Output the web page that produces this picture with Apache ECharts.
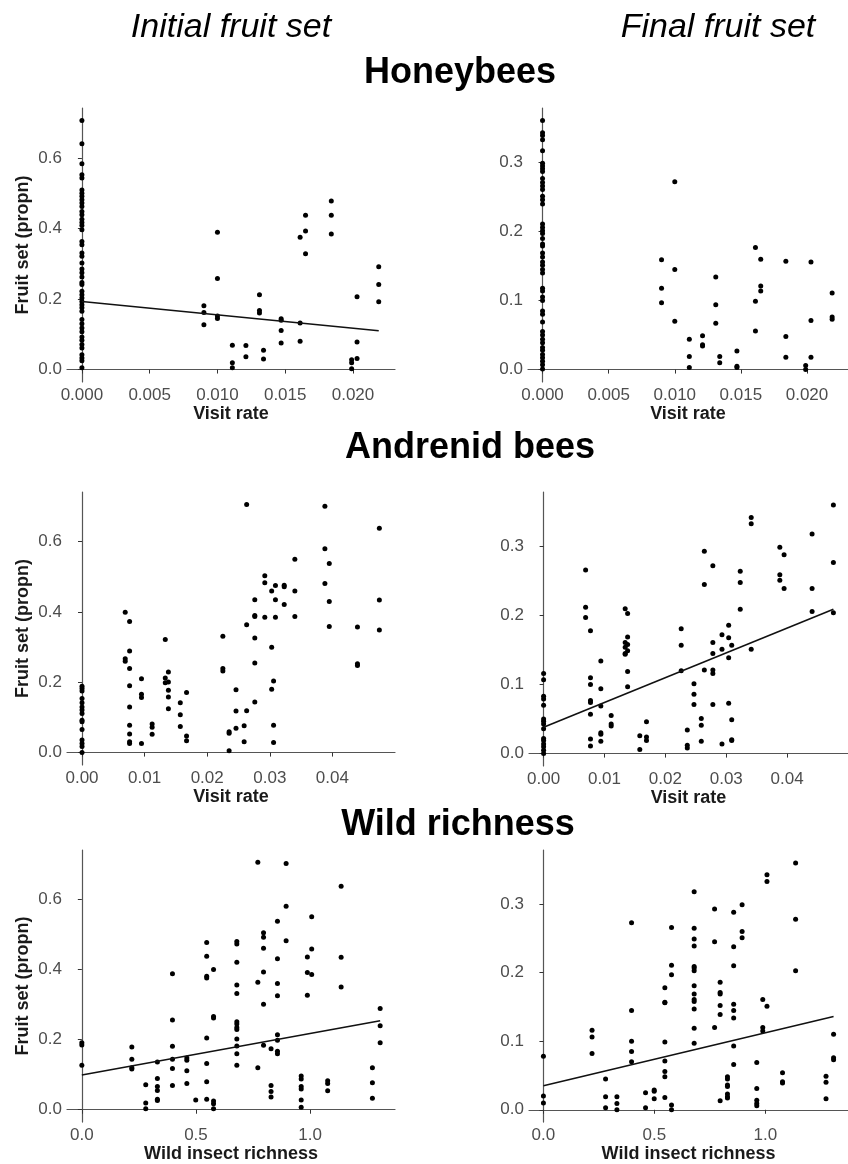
<!DOCTYPE html>
<html>
<head>
<meta charset="utf-8">
<script src="https://cdn.jsdelivr.net/npm/echarts@6/dist/echarts.min.js"></script>
<style>
  html, body { margin: 0; padding: 0; background: #fff; }
  #chart { width: 848px; height: 1164px; }
</style>
</head>
<body>
<div id="chart"></div>
<script>
// columns: [x, [y values at that x]]
const honeyInitial = [
  [0, [0.706, 0.640, 0.583, 0.552, 0.543, 0.509, 0.500, 0.491, 0.481, 0.472, 0.462, 0.448, 0.439, 0.426,
       0.417, 0.408, 0.396, 0.363, 0.354, 0.330, 0.321, 0.302, 0.285, 0.274, 0.262, 0.247, 0.241, 0.222,
       0.212, 0.203, 0.193, 0.184, 0.175, 0.165, 0.142, 0.130, 0.118, 0.107, 0.092, 0.083, 0.071, 0.061,
       0.042, 0.033, 0.025, 0.005]],
  [0.0090, [0.181, 0.162, 0.127]],
  [0.0100, [0.389, 0.258, 0.152, 0.145]],
  [0.0111, [0.069, 0.019, 0.005]],
  [0.0121, [0.068, 0.036]],
  [0.0131, [0.212, 0.167, 0.160]],
  [0.0134, [0.055, 0.030]],
  [0.0147, [0.144, 0.140, 0.111, 0.075]],
  [0.0161, [0.375, 0.132, 0.080]],
  [0.0165, [0.437, 0.393, 0.328]],
  [0.0184, [0.478, 0.437, 0.384]],
  [0.0199, [0.028, 0.019, 0.002]],
  [0.0203, [0.206, 0.078, 0.031]],
  [0.0219, [0.291, 0.241, 0.192]]
];
const honeyFinal = [
  [0, [0.361, 0.343, 0.339, 0.333, 0.317, 0.299, 0.295, 0.291, 0.287, 0.277, 0.271, 0.266, 0.261, 0.251,
       0.246, 0.240, 0.211, 0.206, 0.201, 0.197, 0.190, 0.182, 0.179, 0.169, 0.163, 0.156, 0.151, 0.145,
       0.140, 0.118, 0.114, 0.105, 0.100, 0.085, 0.080, 0.069, 0.055, 0.050, 0.044, 0.039, 0.032, 0.028,
       0.022, 0.017, 0.012, 0.007, 0.001]],
  [0.0090, [0.159, 0.118, 0.097]],
  [0.0100, [0.272, 0.145, 0.070]],
  [0.0111, [0.044, 0.019, 0.003]],
  [0.0121, [0.049, 0.036, 0.034]],
  [0.0131, [0.134, 0.094, 0.067]],
  [0.0134, [0.019, 0.010]],
  [0.0147, [0.027, 0.005, 0.003]],
  [0.0161, [0.177, 0.099, 0.056]],
  [0.0165, [0.160, 0.121, 0.114]],
  [0.0184, [0.157, 0.048, 0.018]],
  [0.0199, [0.006, 0.000]],
  [0.0203, [0.156, 0.071, 0.018]],
  [0.0219, [0.111, 0.076, 0.073]]
];
const andrenidInitial = [
  [0, [0.189, 0.182, 0.175, 0.154, 0.142, 0.130, 0.121, 0.111, 0.092, 0.088, 0.066, 0.036, 0.026, 0.017, 0.000]],
  [0.0069, [0.399, 0.267, 0.260]],
  [0.0076, [0.373, 0.289, 0.239, 0.190, 0.130, 0.078, 0.053, 0.031, 0.026]],
  [0.0095, [0.210, 0.166, 0.157, 0.026]],
  [0.0112, [0.081, 0.072, 0.052]],
  [0.0133, [0.322, 0.212, 0.199]],
  [0.0138, [0.229, 0.201, 0.177, 0.158, 0.125]],
  [0.0157, [0.142, 0.108, 0.074]],
  [0.0167, [0.171, 0.047, 0.034]],
  [0.0225, [0.331, 0.239, 0.232]],
  [0.0235, [0.059, 0.055, 0.005]],
  [0.0246, [0.179, 0.118, 0.069]],
  [0.0259, [0.076, 0.031]],
  [0.0263, [0.706, 0.364, 0.119]],
  [0.0276, [0.435, 0.390, 0.387, 0.326, 0.255, 0.144]],
  [0.0292, [0.503, 0.483, 0.385]],
  [0.0303, [0.460, 0.300, 0.180]],
  [0.0306, [0.204, 0.078, 0.029]],
  [0.0309, [0.475, 0.435, 0.385]],
  [0.0323, [0.476, 0.472, 0.421]],
  [0.0340, [0.550, 0.460, 0.387]],
  [0.0388, [0.701, 0.580, 0.481]],
  [0.0395, [0.538, 0.430, 0.359]],
  [0.0440, [0.357, 0.253, 0.248]],
  [0.0475, [0.638, 0.434, 0.349]]
];
const andrenidFinal = [
  [0, [0.116, 0.107, 0.083, 0.079, 0.070, 0.050, 0.047, 0.043, 0.036, 0.022, 0.019, 0.014, 0.010, 0.005, 0.000]],
  [0.0069, [0.266, 0.212, 0.197]],
  [0.0077, [0.178, 0.110, 0.100, 0.077, 0.074, 0.057, 0.021, 0.011]],
  [0.0094, [0.134, 0.094, 0.069, 0.030, 0.028, 0.018]],
  [0.0111, [0.055, 0.043, 0.040]],
  [0.0134, [0.210, 0.161, 0.154, 0.145, 0.144]],
  [0.0138, [0.203, 0.169, 0.158, 0.149, 0.119, 0.097]],
  [0.0158, [0.026, 0.006]],
  [0.0169, [0.046, 0.024, 0.019]],
  [0.0226, [0.181, 0.157, 0.120]],
  [0.0236, [0.034, 0.012, 0.008]],
  [0.0247, [0.101, 0.086, 0.071]],
  [0.0259, [0.051, 0.041, 0.018]],
  [0.0264, [0.293, 0.245, 0.121]],
  [0.0278, [0.272, 0.161, 0.145, 0.121, 0.116, 0.071]],
  [0.0293, [0.172, 0.151, 0.014]],
  [0.0304, [0.186, 0.168, 0.139, 0.073]],
  [0.0309, [0.157, 0.049, 0.020, 0.019]],
  [0.0323, [0.264, 0.248, 0.209]],
  [0.0341, [0.342, 0.333, 0.151]],
  [0.0388, [0.299, 0.259, 0.251]],
  [0.0395, [0.288, 0.239]],
  [0.0441, [0.318, 0.239, 0.206]],
  [0.0476, [0.360, 0.277, 0.204]]
];
const wildInitial = [
  [0, [0.191, 0.185, 0.127]],
  [0.219, [0.179, 0.144, 0.120, 0.116]],
  [0.280, [0.071, 0.019, 0.003]],
  [0.331, [0.136, 0.089, 0.066, 0.055, 0.030, 0.026]],
  [0.397, [0.388, 0.256, 0.181, 0.144, 0.118, 0.069]],
  [0.460, [0.148, 0.141, 0.111, 0.075]],
  [0.499, [0.028]],
  [0.547, [0.477, 0.438, 0.381, 0.376, 0.205, 0.132, 0.080, 0.030]],
  [0.577, [0.400, 0.266, 0.262, 0.025, 0.017, 0.003]],
  [0.679, [0.480, 0.473, 0.421, 0.356, 0.332, 0.251, 0.245, 0.235, 0.229, 0.202, 0.182, 0.160, 0.127]],
  [0.771, [0.706, 0.364, 0.120]],
  [0.796, [0.505, 0.492, 0.461, 0.393, 0.301, 0.184]],
  [0.829, [0.174, 0.069, 0.052, 0.036]],
  [0.857, [0.538, 0.431, 0.360, 0.325, 0.214, 0.198, 0.167, 0.160]],
  [0.895, [0.703, 0.581, 0.482]],
  [0.961, [0.096, 0.088, 0.066, 0.059, 0.028, 0.007]],
  [0.988, [0.436, 0.392, 0.327]],
  [1.007, [0.551, 0.459, 0.386]],
  [1.077, [0.083, 0.075, 0.054]],
  [1.136, [0.638, 0.435, 0.350]],
  [1.273, [0.120, 0.077, 0.033]],
  [1.307, [0.289, 0.240, 0.191]]
];
const wildFinal = [
  [0, [0.078, 0.020, 0.010]],
  [0.219, [0.116, 0.106, 0.082]],
  [0.280, [0.045, 0.019, 0.003]],
  [0.331, [0.019, 0.009, 0.000]],
  [0.397, [0.273, 0.145, 0.100, 0.085, 0.070]],
  [0.460, [0.025, 0.003]],
  [0.499, [0.029, 0.027, 0.016]],
  [0.547, [0.178, 0.157, 0.156, 0.099, 0.071, 0.056, 0.048, 0.018]],
  [0.577, [0.266, 0.211, 0.197, 0.007, 0.000]],
  [0.679, [0.318, 0.265, 0.249, 0.239, 0.209, 0.207, 0.203, 0.181, 0.169, 0.161, 0.158, 0.147, 0.119, 0.097]],
  [0.771, [0.293, 0.245, 0.120]],
  [0.796, [0.186, 0.171, 0.169, 0.152, 0.139, 0.013]],
  [0.829, [0.048, 0.045, 0.036, 0.034, 0.023, 0.019, 0.017]],
  [0.857, [0.288, 0.238, 0.210, 0.154, 0.145, 0.134, 0.093, 0.066]],
  [0.895, [0.299, 0.260, 0.251]],
  [0.961, [0.069, 0.031, 0.014, 0.009, 0.006]],
  [0.988, [0.161, 0.120, 0.115]],
  [1.007, [0.343, 0.333, 0.151]],
  [1.077, [0.054, 0.041, 0.039]],
  [1.136, [0.360, 0.278, 0.203]],
  [1.273, [0.049, 0.040, 0.016]],
  [1.307, [0.110, 0.076, 0.073]]
];

// fitted lines (end points)
const honeyInitialFit = [[0, 0.193], [0.0219, 0.110]];
const andrenidFinalFit = [[0, 0.038], [0.0476, 0.209]];
const wildInitialFit = [[0, 0.099], [1.307, 0.254]];
const wildFinalFit = [[0, 0.035], [1.307, 0.136]];

const rateTicks = [0, 0.005, 0.010, 0.015, 0.020];
const andrenidTicks = [0, 0.01, 0.02, 0.03, 0.04];
const richTicks = [0, 0.5, 1.0];
const initialTicks = [0, 0.2, 0.4, 0.6];
const finalTicks = [0, 0.1, 0.2, 0.3];

const colTitles = ['Initial fruit set', 'Final fruit set'];
const rowTitles = ['Honeybees', 'Andrenid bees', 'Wild richness'];

const FONT = '"Liberation Sans", Arial, sans-serif';

function flatten (cols) {
  let out = []
  cols.forEach(c => c[1].forEach(v => out.push([c[0], v])))
  return out
}

const panels = [
  {grid: {left: 67, top: 108, width: 328, height: 274}, xr: [-0.0011, 0.0231], xt: rateTicks, xd: 3,
    yr: [-0.0353, 0.7413], yt: initialTicks, data: honeyInitial, fit: honeyInitialFit, xname: 'Visit rate', yname: 'Fruit set (propn)'},
  {grid: {left: 528, top: 108, width: 329, height: 274}, xr: [-0.0011, 0.0231], xt: rateTicks, xd: 3,
    yr: [-0.018, 0.379], yt: finalTicks, data: honeyFinal, fit: null, xname: 'Visit rate', yname: ''},
  {grid: {left: 67, top: 492, width: 328, height: 273}, xr: [-0.0024, 0.0500], xt: andrenidTicks, xd: 2,
    yr: [-0.0353, 0.7413], yt: initialTicks, data: andrenidInitial, fit: null, xname: 'Visit rate', yname: 'Fruit set (propn)'},
  {grid: {left: 529, top: 492, width: 329, height: 274}, xr: [-0.0024, 0.0500], xt: andrenidTicks, xd: 2,
    yr: [-0.018, 0.379], yt: finalTicks, data: andrenidFinal, fit: andrenidFinalFit, xname: 'Visit rate', yname: ''},
  {grid: {left: 67, top: 850, width: 328, height: 274}, xr: [-0.065, 1.372], xt: richTicks, xd: 1,
    yr: [-0.0353, 0.7413], yt: initialTicks, data: wildInitial, fit: wildInitialFit, xname: 'Wild insect richness', yname: 'Fruit set (propn)'},
  {grid: {left: 529, top: 850, width: 329, height: 274}, xr: [-0.065, 1.372], xt: richTicks, xd: 1,
    yr: [-0.018, 0.379], yt: finalTicks, data: wildFinal, fit: wildFinalFit, xname: 'Wild insect richness', yname: ''}
];

const axisLine = {lineStyle: {color: '#555', width: 1.2}};
const grids = [], xAxes = [], yAxes = [], series = [];

panels.forEach((p, i) => {
  grids.push(p.grid)
  xAxes.push({
    type: 'value', gridIndex: i, min: p.xr[0], max: p.xr[1],
    splitLine: {show: false},
    axisLine: axisLine,
    axisTick: {show: true, length: 4, customValues: p.xt, lineStyle: {color: '#333'}},
    axisLabel: {customValues: p.xt, margin: 5, color: '#4d4d4d', fontSize: 17, fontFamily: FONT,
      formatter: v => v.toFixed(p.xd)},
    name: p.xname, nameLocation: 'middle', nameGap: 21,
    nameTextStyle: {fontSize: 18, fontWeight: 'bold', color: '#1a1a1a', fontFamily: FONT}
  })
  yAxes.push({
    type: 'value', gridIndex: i, min: p.yr[0], max: p.yr[1],
    splitLine: {show: false},
    axisLine: axisLine,
    axisTick: {show: true, length: 4, customValues: p.yt, lineStyle: {color: '#333'}},
    axisLabel: {customValues: p.yt, margin: 5, color: '#4d4d4d', fontSize: 17, fontFamily: FONT,
      formatter: v => v.toFixed(1)},
    name: p.yname, nameLocation: 'middle', nameGap: 35, nameRotate: 90,
    nameTextStyle: {fontSize: 18, fontWeight: 'bold', color: '#1a1a1a', fontFamily: FONT}
  })
  series.push({
    type: 'scatter', xAxisIndex: i, yAxisIndex: i,
    data: flatten(p.data), symbolSize: 5,
    itemStyle: {color: '#000', opacity: 1}, silent: true
  })
  if (p.fit) {
    series.push({
      type: 'line', xAxisIndex: i, yAxisIndex: i, data: p.fit,
      symbol: 'none', lineStyle: {color: '#111', width: 1.6}, silent: true, z: 3
    })
  }
})

const textEl = (txt, x, y, font) => ({
  type: 'text', x: x, y: y, silent: true,
  style: {text: txt, font: font, fill: '#000', align: 'center', verticalAlign: 'middle'}
})

const graphics = [
  textEl(colTitles[0], 231, 28, 'italic 34px ' + FONT),
  textEl(colTitles[1], 718, 28, 'italic 34px ' + FONT),
  textEl(rowTitles[0], 460, 73, 'bold 36px ' + FONT),
  textEl(rowTitles[1], 470, 448, 'bold 36px ' + FONT),
  textEl(rowTitles[2], 458, 825, 'bold 36px ' + FONT)
];

const myChart = echarts.init(document.getElementById('chart'), null, {renderer: 'canvas'})
myChart.setOption({
  animation: false,
  backgroundColor: '#fff',
  grid: grids,
  xAxis: xAxes,
  yAxis: yAxes,
  series: series,
  graphic: graphics
})
</script>
</body>
</html>
